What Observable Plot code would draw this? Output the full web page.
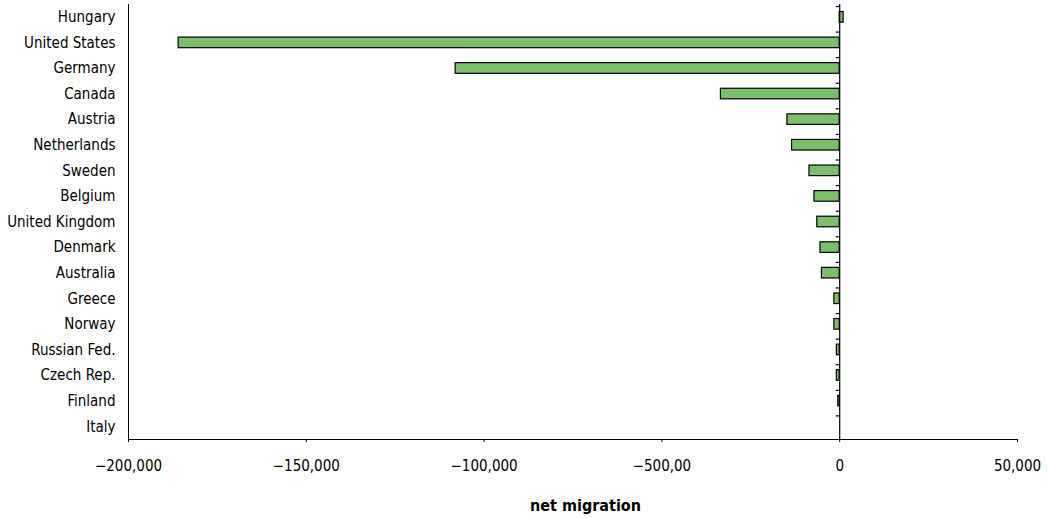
<!DOCTYPE html>
<html>
<head>
<meta charset="utf-8">
<script src="https://cdn.jsdelivr.net/npm/d3@7"></script>
<script src="https://cdn.jsdelivr.net/npm/@observablehq/plot@0.6"></script>
<style>
  body { margin: 0; background: #fff; }
  #chart svg { display: block; }
  #xlabel {
    width: 1047px; box-sizing: border-box; padding-left: 124px;
    text-align: center; font-family: "Liberation Sans Narrow", "Arial Narrow", "DejaVu Sans Condensed", sans-serif;
    font-weight: bold; font-size: 16px; color: #000; margin-top: 18px;
  }
</style>
</head>
<body>
<div id="chart"></div>
<div id="xlabel">net migration</div>
<script>
const countries = ["Hungary","United States","Germany","Canada","Austria","Netherlands","Sweden","Belgium","United Kingdom","Denmark","Australia","Greece","Norway","Russian Fed.","Czech Rep.","Finland","Italy"];
const netMigration = [1100,-185900,-108000,-33400,-14700,-13400,-8500,-7100,-6300,-5400,-5000,-1500,-1500,-800,-800,-400,0];
const tickValues = [-200000,-150000,-100000,-50000,0,50000];
const tickLabels = ["\u2212200,000","\u2212150,000","\u2212100,000","\u2212500,00","0","50,000"];

const data = countries.map((c, i) => ({country: c, value: netMigration[i]}));
const font = '"Liberation Sans Narrow", "Arial Narrow", "DejaVu Sans Condensed", sans-serif';

const leftTick = { draw(ctx) { ctx.moveTo(-4, 0); ctx.lineTo(0, 0); } };

const chart = Plot.plot({
  width: 1047,
  height: 478,
  marginTop: 4,
  marginBottom: 39,
  marginLeft: 128,
  marginRight: 30,
  style: { fontFamily: font, fontSize: "15px", color: "#000", background: "#fff" },
  x: { domain: [-200000, 50000], ticks: tickValues, tickFormat: d => tickLabels[tickValues.indexOf(d)], label: null, tickSize: 3, tickPadding: 18, line: true },
  y: { domain: countries, label: null, tickSize: 0, tickPadding: 13, line: true, padding: 0, round: false },
  marks: [
    Plot.barX(data, { x: "value", y: "country", fill: "#7cbf6b", stroke: "#000", strokeWidth: 1.2, insetTop: 7.5, insetBottom: 7.5 }),
    Plot.ruleX([0], { stroke: "#000", strokeWidth: 1.2 }),
    Plot.dot(countries, { x: () => 0, y: d => d, symbol: leftTick, stroke: "#000", fill: "none", strokeWidth: 1.2, dy: -10.8, r: 4 })
  ]
});
document.getElementById("chart").appendChild(chart);
</script>
</body>
</html>
